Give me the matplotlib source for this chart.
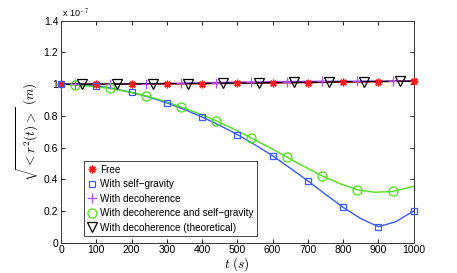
import matplotlib
matplotlib.use("Agg")
import matplotlib.pyplot as plt

# values in units of 1e-7 m
t_free = [0, 100, 200, 300, 400, 500, 600, 700, 800, 900, 1000]
r_free = [1.0, 1.0002, 1.0008, 1.0018, 1.0032, 1.005, 1.0072, 1.0098, 1.0127, 1.016, 1.0196]

t_grav = [0, 50, 100, 150, 200, 250, 300, 350, 400, 450, 500,
          550, 600, 650, 700, 750, 800, 850, 900, 950, 1000]
r_grav = [1.0, 0.998, 0.99, 0.972, 0.948, 0.918, 0.882, 0.84, 0.793, 0.74, 0.682,
          0.618, 0.548, 0.47, 0.39, 0.305, 0.223, 0.152, 0.101, 0.133, 0.20]

t_dec = [0, 40, 90, 140, 190, 240, 290, 340, 390, 440, 490,
         540, 590, 640, 690, 740, 790, 840, 890, 940, 990, 1000]
r_dec = [1.0, 1.0001, 1.0005, 1.0012, 1.0021, 1.0033, 1.0048, 1.0064, 1.0083, 1.0104, 1.0127,
         1.0142, 1.0155, 1.0166, 1.0175, 1.0182, 1.0187, 1.019, 1.0192, 1.0193, 1.0194, 1.0194]
r_decgrav = [1.0, 0.995, 0.986, 0.973, 0.952, 0.927, 0.895, 0.857, 0.815, 0.769, 0.717,
             0.66, 0.602, 0.54, 0.48, 0.422, 0.373, 0.334, 0.318, 0.323, 0.35, 0.357]

t_theo = [0, 60, 160, 260, 360, 460, 560, 660, 760, 860, 960, 1000]
r_theo = [1.0, 1.0001, 1.0008, 1.002, 1.0037, 1.0058, 1.0083, 1.011, 1.0138, 1.016, 1.018, 1.0188]

labels = ["Free", "With self\u2212gravity", "With decoherence",
          "With decoherence and self\u2212gravity", "With decoherence (theoretical)"]

red = "#ff1a1a"
blue = "#3a5cff"
purple = "#b34dff"
green = "#4ee01a"

plt.rcParams["font.family"] = "Liberation Sans"
plt.rcParams["mathtext.fontset"] = "cm"

fig = plt.figure(figsize=(4.57, 2.73), dpi=100)
ax = fig.add_axes([0.1335, 0.111, 0.7717, 0.813])

# lines
ax.plot(t_free, r_free, "-", color=red, lw=1)
ax.plot(t_grav, r_grav, "-", color=blue, lw=1)
ax.plot(t_dec, r_dec, "-", color=purple, lw=1)
ax.plot(t_dec, r_decgrav, "-", color=green, lw=1)
ax.plot(t_theo, r_theo, "-", color="black", lw=1)

# markers
ax.plot(t_free, r_free, ls="none", marker=(8, 2, 0), ms=5.5, mew=1, color=red,
        label=labels[0], clip_on=False, zorder=5)
ax.plot(t_grav[::2], r_grav[::2], ls="none", marker="s", ms=5, mew=0.9, mfc="none",
        mec=blue, label=labels[1], clip_on=False, zorder=5)
ax.plot(t_dec[1:20:2], r_dec[1:20:2], ls="none", marker="+", ms=6.5, mew=0.9, color=purple,
        label=labels[2], clip_on=False, zorder=5)
ax.plot(t_dec[1:20:2], r_decgrav[1:20:2], ls="none", marker="o", ms=6.5, mew=0.9, mfc="none",
        mec=green, label=labels[3], clip_on=False, zorder=5)
ax.plot(t_theo[1:11], r_theo[1:11], ls="none", marker="v", ms=6.5, mew=0.9, mfc="none",
        mec="black", label=labels[4], clip_on=False, zorder=5)

ax.set_xlim(0, 1000)
ax.set_ylim(0, 1.4)
ax.set_xticks(range(0, 1001, 100))
yt = [0, 0.2, 0.4, 0.6, 0.8, 1.0, 1.2, 1.4]
ax.set_yticks(yt)
ax.set_yticklabels(["0", "0.2", "0.4", "0.6", "0.8", "1", "1.2", "1.4"])
ax.tick_params(direction="in", top=True, right=True, length=3, width=0.6,
               labelsize=7.5, pad=2)
for s in ax.spines.values():
    s.set_linewidth(0.7)
    s.set_color("#333333")

ax.text(0.003, 1.005, "x 10$^{-7}$", transform=ax.transAxes,
        fontsize=6.5, va="bottom", ha="left")

ax.set_xlabel(r"$t\ (s)$", fontsize=9.5, labelpad=0)
ax.set_ylabel(r"$\sqrt{<r^2(t)>}\ (m)$", fontsize=9.5, labelpad=2)

leg = ax.legend(loc="lower left", bbox_to_anchor=(0.066, 0.03), borderaxespad=0,
                fontsize=7.2, handlelength=0.9, handletextpad=0.3, labelspacing=0.45,
                borderpad=0.35, fancybox=False, framealpha=1, edgecolor="#444444")
leg.get_frame().set_linewidth(0.7)

fig.savefig("out.png", dpi=100)
